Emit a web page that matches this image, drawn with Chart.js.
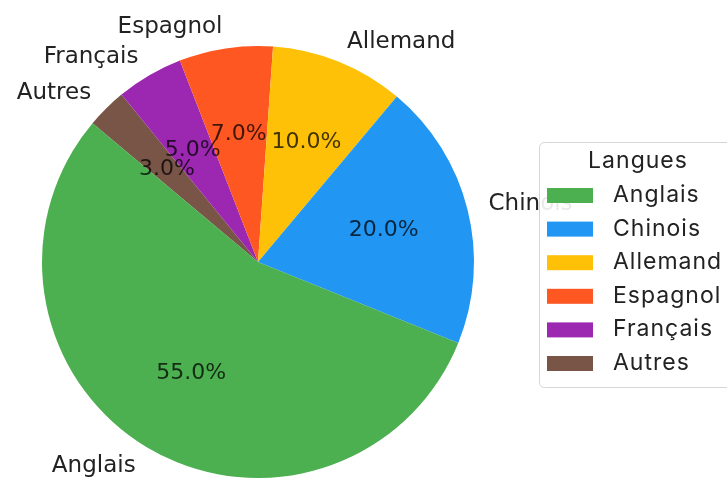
<!DOCTYPE html>
<html>
<head>
<meta charset="utf-8">
<script src="https://cdn.jsdelivr.net/npm/chart.js@4"></script>
<style>
  html, body { margin: 0; padding: 0; background: #fff; }
  #wrap { width: 727px; height: 479px; }
</style>
</head>
<body>
<div id="wrap"><canvas id="pieChart" width="727" height="479"></canvas></div>
<script>
// Données : répartition des langues (%)
const langues = ['Anglais', 'Chinois', 'Allemand', 'Espagnol', 'Français', 'Autres'];
const parts = [55, 20, 10, 7, 5, 3];
const couleurs = ['#4CAF50', '#2196F3', '#FFC107', '#FF5722', '#9C27B0', '#795548'];
const titreLegende = 'Langues';

// matplotlib tourne dans le sens anti-horaire, Chart.js dans le sens horaire : on inverse
const labelsInv = langues.slice().reverse();
const partsInv = parts.slice().reverse();
const couleursInv = couleurs.slice().reverse();

const total = parts.reduce((a, b) => a + b, 0);

// Étiquettes extérieures + pourcentages (style matplotlib)
const etiquettesPlugin = {
  id: 'etiquettes',
  afterDatasetsDraw(chart) {
    const ctx = chart.ctx;
    const arcs = chart.getDatasetMeta(0).data;
    ctx.save();
    ctx.textBaseline = 'middle';
    arcs.forEach((arc, i) => {
      const mid = (arc.startAngle + arc.endAngle) / 2;
      const r = arc.outerRadius;
      const cx = arc.x, cy = arc.y;
      // nom de la langue à 1.1 R
      const lx = cx + Math.cos(mid) * r * 1.1;
      const ly = cy + Math.sin(mid) * r * 1.1;
      ctx.font = '23px "DejaVu Sans"';
      ctx.fillStyle = '#222';
      ctx.textAlign = Math.cos(mid) >= 0 ? 'left' : 'right';
      ctx.fillText(labelsInv[i], lx, ly);
      // pourcentage à 0.6 R
      const px = cx + Math.cos(mid) * r * 0.6;
      const py = cy + Math.sin(mid) * r * 0.6;
      ctx.textAlign = 'center';
      ctx.font = '22px "DejaVu Sans"';
      ctx.fillStyle = 'rgba(0,0,0,0.75)';
      ctx.fillText((partsInv[i] / total * 100).toFixed(1) + '%', px, py);
    });
    ctx.restore();
  }
};

// Légende encadrée dessinée à la main
const legendePlugin = {
  id: 'legende',
  afterDraw(chart) {
    const ctx = chart.ctx;
    const x = 539, y = 142, w = 200, h = 245;
    ctx.save();
    ctx.fillStyle = 'rgba(255,255,255,0.9)';
    ctx.strokeStyle = '#d6d6d6';
    ctx.lineWidth = 1;
    ctx.beginPath();
    ctx.roundRect(x + 0.5, y + 0.5, w, h, 5);
    ctx.fill();
    ctx.stroke();

    ctx.fillStyle = '#222';
    ctx.textBaseline = 'middle';
    ctx.textAlign = 'center';
    ctx.font = '400 23px Inter';
    ctx.letterSpacing = '1px';
    ctx.fillText(titreLegende, 638, 161);

    ctx.textAlign = 'left';
    langues.forEach((nom, i) => {
      const yy = 195 + i * 33.6;
      ctx.fillStyle = couleurs[i];
      ctx.fillRect(547, yy - 7, 46, 15);
      ctx.fillStyle = '#222';
      ctx.fillText(nom, 613, yy);
    });
    ctx.restore();
  }
};

new Chart(document.getElementById('pieChart'), {
  type: 'pie',
  data: {
    labels: labelsInv,
    datasets: [{
      data: partsInv,
      backgroundColor: couleursInv,
      borderWidth: 0
    }]
  },
  options: {
    responsive: false,
    animation: false,
    rotation: -50,
    layout: {
      padding: { left: 42, right: 253, top: 46, bottom: 1 }
    },
    plugins: {
      legend: { display: false },
      tooltip: { enabled: false }
    }
  },
  plugins: [etiquettesPlugin, legendePlugin]
});
</script>
</body>
</html>
